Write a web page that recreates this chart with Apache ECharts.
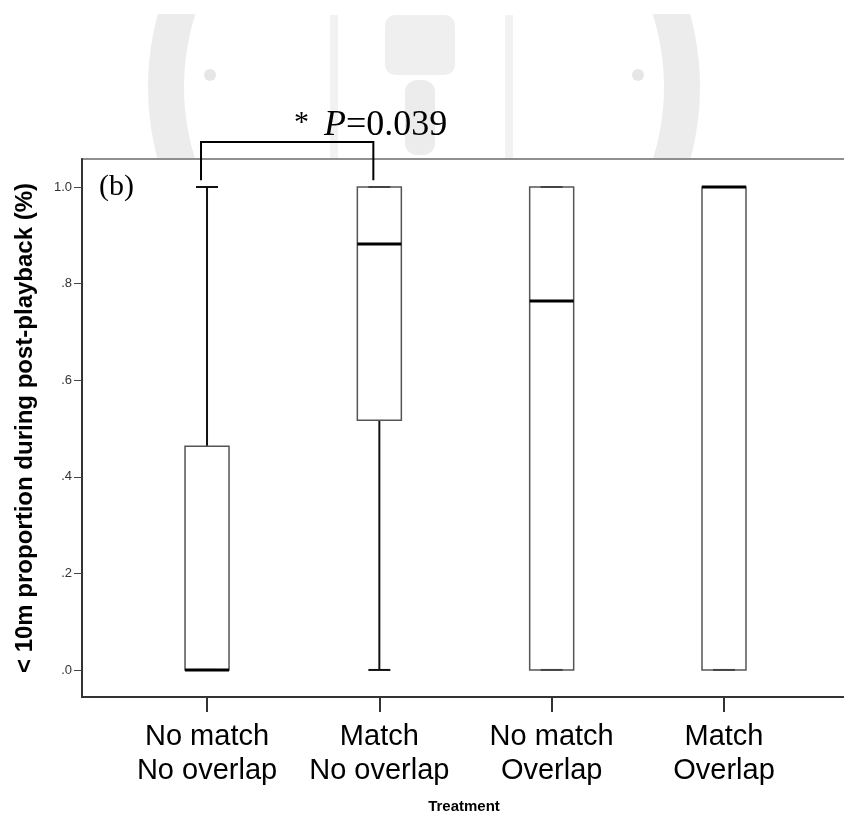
<!DOCTYPE html>
<html>
<head>
<meta charset="utf-8">
<script src="https://cdn.jsdelivr.net/npm/echarts@6/dist/echarts.min.js"></script>
<style>
  html, body { margin: 0; padding: 0; background: #fff; }
  #chart { width: 844px; height: 824px; }
</style>
</head>
<body>
<div id="chart"></div>
<script>
// groups along the x axis (1..4)
const categories = ['No match\nNo overlap', 'Match\nNo overlap', 'No match\nOverlap', 'Match\nOverlap'];
const lowerWhisker = [0, 0, 0, 0];
const q1 = [0, 0.517, 0, 0];
const median = [0, 0.882, 0.764, 1.0];
const q3 = [0.463, 1.0, 1.0, 1.0];
const upperWhisker = [1.0, 1.0, 1.0, 1.0];
const yTicks = [0, 0.2, 0.4, 0.6, 0.8, 1.0];

// significance bracket between group 1 and group 2
const bracketGroups = [1, 2];
const bracketTop = 1.093;
const bracketFoot = 1.014;

const groupIdx = categories.map((c, i) => i + 1);
const boxData = groupIdx.map((g, i) => [g, lowerWhisker[i], q1[i], median[i], q3[i], upperWhisker[i]]);

const chart = echarts.init(document.getElementById('chart'));

const whiskerStyle = { stroke: '#111', lineWidth: 2 };
const serif = '"Liberation Serif", "Times New Roman", serif';
const sans = '"Liberation Sans", Arial, sans-serif';

chart.setOption({
  animation: false,
  backgroundColor: '#fff',
  // faint watermark behind the upper margin
  graphic: [
    { type: 'ring', z: -20, shape: { cx: 424, cy: 87, r: 276, r0: 240 }, style: { fill: '#ececec' } },
    { type: 'circle', z: -19, shape: { cx: 210, cy: 75, r: 6 }, style: { fill: '#e6e6e6' } },
    { type: 'circle', z: -19, shape: { cx: 638, cy: 75, r: 6 }, style: { fill: '#e6e6e6' } },
    { type: 'rect', z: -19, shape: { x: 385, y: 15, width: 70, height: 60, r: 10 }, style: { fill: '#efefef' } },
    { type: 'rect', z: -19, shape: { x: 405, y: 80, width: 30, height: 75, r: 12 }, style: { fill: '#ececec' } },
    { type: 'rect', z: -19, shape: { x: 330, y: 15, width: 8, height: 143 }, style: { fill: '#f2f2f2' } },
    { type: 'rect', z: -19, shape: { x: 505, y: 15, width: 8, height: 143 }, style: { fill: '#f2f2f2' } },
    { type: 'rect', z: -10, shape: { x: 0, y: 0, width: 844, height: 14 }, style: { fill: '#fff' } },
    { type: 'rect', z: -10, shape: { x: 0, y: 159, width: 844, height: 665 }, style: { fill: '#fff' } },
    {
      type: 'text', left: 99, top: 172,
      style: { text: '(b)', font: '30px ' + serif, fill: '#000' }
    },
    {
      type: 'text', left: 294, top: 108,
      style: {
        text: '{s|*}{g|}{p|P}{n|=0.039}',
        rich: {
          s: { font: '30px ' + serif, fill: '#000', padding: [0, 0, 6, 0] },
          g: { width: 15 },
          p: { font: 'italic 36px ' + serif, fill: '#000' },
          n: { font: '36px ' + serif, fill: '#000' }
        }
      }
    }
  ],
  grid: {
    left: 82, right: -2, top: 159, bottom: 127,
    show: true, borderColor: '#8f8f8f', borderWidth: 2,
    outerBoundsMode: 'none'
  },
  xAxis: {
    type: 'value',
    min: 0.2745,
    max: 4.708,
    splitLine: { show: false },
    axisLine: { show: true, onZero: false, lineStyle: { color: '#333', width: 2 } },
    axisTick: { show: true, customValues: groupIdx, length: 15, lineStyle: { color: '#333', width: 2 } },
    axisLabel: {
      customValues: groupIdx,
      formatter: v => categories[Math.round(v) - 1] || '',
      fontFamily: sans,
      fontSize: 29,
      lineHeight: 34,
      color: '#000',
      margin: 23
    },
    name: 'Treatment',
    nameLocation: 'middle',
    nameGap: 102,
    nameTextStyle: { fontFamily: sans, fontWeight: 'bold', fontSize: 15, color: '#000' }
  },
  yAxis: {
    type: 'value',
    min: -0.056,
    max: 1.058,
    splitLine: { show: false },
    axisLine: { show: true, onZero: false, lineStyle: { color: '#333', width: 2 } },
    axisTick: { show: true, customValues: yTicks, length: 8, lineStyle: { color: '#444', width: 1 } },
    axisLabel: {
      customValues: yTicks,
      formatter: v => v.toFixed(1).replace(/^0/, ''),
      fontFamily: sans,
      fontSize: 13,
      color: '#333',
      margin: 10
    },
    name: '< 10m proportion during post-playback (%)',
    nameLocation: 'middle',
    nameGap: 45,
    nameTextStyle: { fontFamily: sans, fontWeight: 'bold', fontSize: 24, color: '#000' }
  },
  series: [
    {
      type: 'custom',
      data: boxData,
      clip: false,
      renderItem: (params, api) => {
        const x = api.value(0);
        const p = k => api.coord([x, api.value(k)]);
        const lo = p(1), b1 = p(2), md = p(3), b3 = p(4), hi = p(5);
        const cx = lo[0];
        const hw = 22, cw = 11;
        return {
          type: 'group',
          children: [
            { type: 'line', shape: { x1: cx, y1: b3[1], x2: cx, y2: hi[1] }, style: whiskerStyle },
            { type: 'line', shape: { x1: cx, y1: b1[1], x2: cx, y2: lo[1] }, style: whiskerStyle },
            { type: 'line', shape: { x1: cx - cw, y1: hi[1], x2: cx + cw, y2: hi[1] }, style: whiskerStyle },
            { type: 'line', shape: { x1: cx - cw, y1: lo[1], x2: cx + cw, y2: lo[1] }, style: whiskerStyle },
            {
              type: 'rect',
              shape: { x: cx - hw, y: b3[1], width: hw * 2, height: b1[1] - b3[1] },
              style: { fill: 'rgba(255,255,255,0)', stroke: '#555', lineWidth: 1.5 }
            },
            { type: 'line', shape: { x1: cx - hw, y1: md[1], x2: cx + hw, y2: md[1] }, style: { stroke: '#000', lineWidth: 3 } }
          ]
        };
      }
    },
    {
      type: 'custom',
      data: [[bracketGroups[0], bracketGroups[1], bracketTop, bracketFoot]],
      clip: false,
      renderItem: (params, api) => {
        const a = api.coord([api.value(0), api.value(3)]);
        const b = api.coord([api.value(0), api.value(2)]);
        const c = api.coord([api.value(1), api.value(2)]);
        const d = api.coord([api.value(1), api.value(3)]);
        const dx = -6;
        return {
          type: 'polyline',
          shape: { points: [[a[0] + dx, a[1]], [b[0] + dx, b[1]], [c[0] + dx, c[1]], [d[0] + dx, d[1]]] },
          style: { stroke: '#000', lineWidth: 2, fill: null }
        };
      }
    }
  ]
});
</script>
</body>
</html>
